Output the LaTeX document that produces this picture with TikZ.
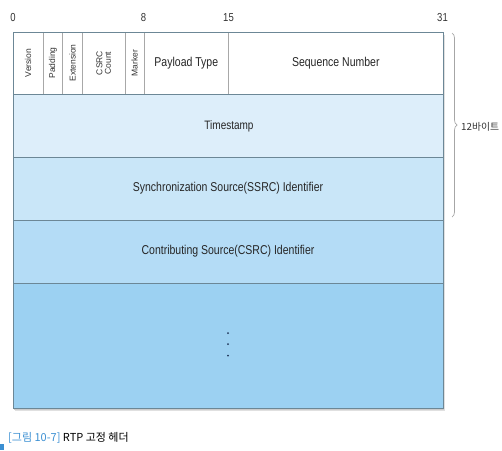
\documentclass[tikz,border=0pt]{standalone}
\usepackage{graphicx}
\usepackage{fontspec}
\setmainfont{Liberation Sans}
\newfontfamily\kr{Noto Sans CJK KR}
\usetikzlibrary{decorations.pathreplacing}
\definecolor{rowA}{HTML}{FFFFFF}
\definecolor{rowB}{HTML}{DDEEFA}
\definecolor{rowC}{HTML}{C9E6F8}
\definecolor{rowD}{HTML}{B4DCF6}
\definecolor{rowE}{HTML}{9CD1F2}
\definecolor{edge}{HTML}{6C8796}
\definecolor{thin}{HTML}{A8A8A8}
\definecolor{capblue}{HTML}{3B8FD2}
\definecolor{dotc}{HTML}{1E3558}
\newcommand{\tall}[1]{\scalebox{1}[1.22]{#1}}
\begin{document}
\begin{tikzpicture}[x=1pt,y=-1pt,
  lbl/.style={font=\fontsize{10.5}{12}\selectfont, text=black!85, inner sep=0pt},
  vlbl/.style={font=\fontsize{8.5}{9}\selectfont, text=black!80, rotate=90, inner sep=0pt, align=center},
  bit/.style={font=\fontsize{9.5}{11}\selectfont, text=black!80, inner sep=0pt},
  rowline/.style={draw=edge, line width=0.9pt},
  cellline/.style={draw=thin, line width=0.5pt}]
\useasboundingbox (0,0) rectangle (502,450);
% shadow
\fill[black!12] (14.5,34.5) rectangle (445,411);
\fill[black!20] (14,33.5) rectangle (444,409.5);
% rows
\fill[rowA] (13,32) rectangle (443,94);
\fill[rowB] (13,94) rectangle (443,157);
\fill[rowC] (13,157) rectangle (443,220);
\fill[rowD] (13,220) rectangle (443,283);
\fill[rowE] (13,283) rectangle (443,408);
% row 1 dividers
\foreach \xx in {43.3,62.7,82.7,125,144,228.7}
  \draw[cellline] (\xx,32) -- (\xx,94);
% row lines
\draw[rowline] (13,94) -- (443,94);
\draw[rowline] (13,157) -- (443,157);
\draw[rowline] (13,220) -- (443,220);
\draw[rowline] (13,283) -- (443,283);
\draw[draw=edge, line width=1pt] (13,32) rectangle (443,408);
% bit numbers
\node[bit] (b0) at (13,18) {\tall{0}};
\node[bit] (b8) at (143.5,18) {\tall{8}};
\node[bit] (b15) at (228.5,18) {\tall{15}};
\node[bit] (b31) at (442.5,18) {\tall{31}};
% row 1 labels
\node[vlbl] (ver) at (28.2,63) {Version};
\node[vlbl] (pad) at (53,63) {Padding};
\node[vlbl] (ext) at (72.7,63) {Extension};
\node[vlbl, font=\fontsize{8.5}{8.5}\selectfont] (cc) at (103.8,63) {CSRC\\Count};
\node[vlbl] (mk) at (134.5,63) {Marker};
\node[lbl] (pt) at (186.3,63) {\tall{Payload Type}};
\node[lbl] (sn) at (335.8,63) {\tall{Sequence Number}};
% rows labels
\node[lbl, font=\fontsize{10}{12}\selectfont] (ts) at (229,126) {\tall{Timestamp}};
\node[lbl] (ssrc) at (228,188.5) {\tall{Synchronization Source(SSRC) Identifier}};
\node[lbl] (csrc) at (228,251.5) {\tall{Contributing Source(CSRC) Identifier}};
% dots
\fill[dotc] (228,333) circle (1pt);
\fill[dotc] (228,344) circle (1pt);
\fill[dotc] (228,355.5) circle (1pt);
% brace
\coordinate (brt) at (452,33);
\coordinate (brb) at (452,217);
\draw[black!35, line width=0.7pt, decorate, decoration={brace, amplitude=5pt}] (brt) -- (brb);
\node[font=\kr\fontsize{9.8}{11}\selectfont, text=black!80, anchor=west, inner sep=0pt] (twelve) at (461,127) {12바이트};
% caption
\fill[capblue] (0,444) rectangle (3.5,450);
\node[font=\kr\fontsize{11}{13}\selectfont, anchor=west, inner sep=0pt] (cap) at (8,438) {\textcolor{capblue}{[그림 10-7]} RTP 고정 헤더};
\end{tikzpicture}
\end{document}
